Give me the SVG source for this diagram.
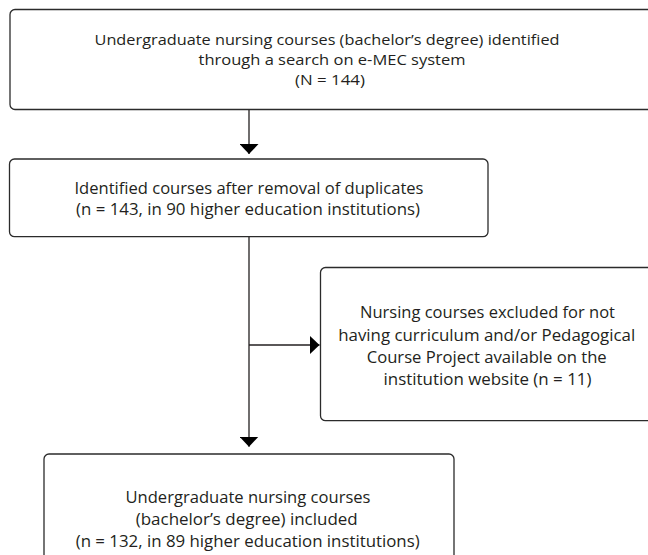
<svg xmlns="http://www.w3.org/2000/svg" width="648" height="555" viewBox="0 0 648 555">
<style>
.box{fill:#fff;stroke:#2b2b2b;stroke-width:1.3}
.t{font-family:"Open Sans","Noto Sans","DejaVu Sans",sans-serif;font-size:16px;fill:#231f20;text-anchor:middle}
.t1{font-size:14.5px}
.c{fill:none;stroke:#231f20;stroke-width:1.3}
</style>
<defs>
<marker id="ah" viewBox="0 0 10 19" refX="10" refY="9.5" markerWidth="10" markerHeight="19" markerUnits="userSpaceOnUse" orient="auto">
<path d="M0,0 L10,9.5 L0,19 Z" fill="#000"/>
</marker>
</defs>
<g id="connectors">
<path class="c" d="M249,109.5 L249,154" marker-end="url(#ah)"/>
<path class="c" d="M249,236.7 L249,446.7" marker-end="url(#ah)"/>
<path class="c" d="M249,345 L319.5,345" marker-end="url(#ah)"/>
</g>
<g id="n1">
<rect class="box" x="10" y="9.5" width="645" height="100" rx="5"/>
<text class="t t1" x="327" y="45" textLength="465" lengthAdjust="spacingAndGlyphs">Undergraduate nursing courses (bachelor’s degree) identified</text>
<text class="t t1" x="332" y="65" textLength="267" lengthAdjust="spacingAndGlyphs">through a search on e-MEC system</text>
<text class="t t1" x="330" y="85" textLength="70" lengthAdjust="spacingAndGlyphs">(N = 144)</text>
</g>
<g id="n2">
<rect class="box" x="9.5" y="159" width="478.5" height="77.7" rx="5"/>
<text class="t" x="249" y="193.5" textLength="349" lengthAdjust="spacingAndGlyphs">Identified courses after removal of duplicates</text>
<text class="t" x="248" y="215" textLength="344" lengthAdjust="spacingAndGlyphs">(n = 143, in 90 higher education institutions)</text>
</g>
<g id="n3">
<rect class="box" x="320.5" y="267.5" width="340" height="153.2" rx="5"/>
<text class="t" x="487.5" y="318" textLength="255" lengthAdjust="spacingAndGlyphs">Nursing courses excluded for not</text>
<text class="t" x="486.7" y="340.5" textLength="297" lengthAdjust="spacingAndGlyphs">having curriculum and/or Pedagogical</text>
<text class="t" x="486.7" y="363" textLength="240" lengthAdjust="spacingAndGlyphs">Course Project available on the</text>
<text class="t" x="487.5" y="385" textLength="208" lengthAdjust="spacingAndGlyphs">institution website (n = 11)</text>
</g>
<g id="n4">
<rect class="box" x="44" y="454" width="410" height="110" rx="5"/>
<text class="t" x="248" y="503" textLength="245" lengthAdjust="spacingAndGlyphs">Undergraduate nursing courses</text>
<text class="t" x="246.7" y="525" textLength="222" lengthAdjust="spacingAndGlyphs">(bachelor’s degree) included</text>
<text class="t" x="247.7" y="547" textLength="344" lengthAdjust="spacingAndGlyphs">(n = 132, in 89 higher education institutions)</text>
</g>
</svg>
